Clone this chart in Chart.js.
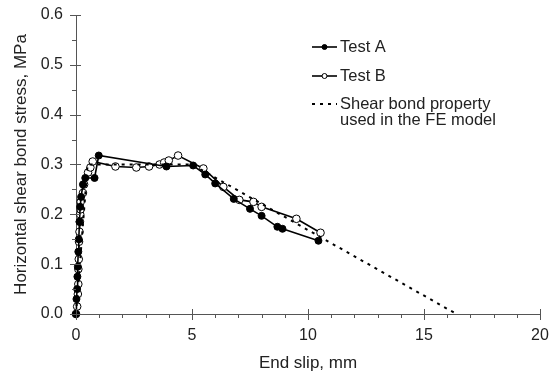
<!DOCTYPE html>
<html>
<head>
<meta charset="utf-8">
<script src="https://cdn.jsdelivr.net/npm/chart.js@4"></script>
<style>
  body { margin: 0; background: #fff; }
  #wrap { width: 552px; height: 374px; }
</style>
</head>
<body>
<div id="wrap"><canvas id="myChart" width="552" height="374"></canvas></div>
<script>
// data
var testAx = [0, 0.02, 0.05, 0.06, 0.08, 0.1, 0.12, 0.15, 0.18, 0.22, 0.3, 0.4, 0.8, 0.98, 3.9, 5.05, 5.57, 6.0, 6.8, 7.5, 8.0, 8.68, 8.9, 10.45];
var testAy = [0, 0.03, 0.05, 0.075, 0.095, 0.125, 0.15, 0.185, 0.215, 0.235, 0.26, 0.273, 0.273, 0.318, 0.296, 0.298, 0.28, 0.262, 0.231, 0.211, 0.197, 0.175, 0.171, 0.147];

var testBx = [0, 0.05, 0.08, 0.1, 0.1, 0.12, 0.13, 0.15, 0.17, 0.18, 0.2, 0.2, 0.3, 0.35, 0.52, 0.62, 0.72, 1.7, 2.6, 3.15, 3.6, 3.8, 4.0, 4.4, 5.49, 6.35, 7.04, 7.65, 8.0, 9.5, 10.54];
var testBy = [0, 0.015, 0.04, 0.06, 0.09, 0.11, 0.145, 0.165, 0.185, 0.2, 0.21, 0.225, 0.243, 0.26, 0.284, 0.294, 0.306, 0.296, 0.294, 0.296, 0.3, 0.304, 0.308, 0.318, 0.292, 0.255, 0.229, 0.225, 0.215, 0.191, 0.163];

var modelX = [0, 0.5, 5.0, 16.4];
var modelY = [0, 0.30, 0.30, 0];

var xTicks = [0, 5, 10, 15, 20];
var yTicks = [0, 0.1, 0.2, 0.3, 0.4, 0.5, 0.6];

function pts(xs, ys) {
  var out = [];
  for (var i = 0; i < xs.length; i++) out.push({x: xs[i], y: ys[i]});
  return out;
}

var FONT = "'Liberation Sans', Arial, sans-serif";
var AXIS = '#555';
var TEXT = '#222';

// minor + major tick marks
var tickPlugin = {
  id: 'ticks',
  afterDraw: function(chart) {
    var c = chart.ctx, xs = chart.scales.x, ys = chart.scales.y;
    var a = chart.chartArea;
    c.save();
    c.strokeStyle = AXIS;
    c.lineWidth = 1;
    c.beginPath();
    for (var i = 0; i <= 20; i++) {
      var px = Math.round(xs.getPixelForValue(i)) + 0.5;
      if (i % 5 == 0) { c.moveTo(px, a.bottom - 5); c.lineTo(px, a.bottom + 6); }
      else { c.moveTo(px, a.bottom); c.lineTo(px, a.bottom + 4); }
    }
    for (var j = 0; j <= 12; j++) {
      var py = Math.round(ys.getPixelForValue(j * 0.05)) + 0.5;
      if (j % 2 == 0) { c.moveTo(a.left - 6, py); c.lineTo(a.left + 5, py); }
      else { c.moveTo(a.left - 4, py); c.lineTo(a.left, py); }
    }
    c.stroke();
    c.restore();
  }
};

// legend drawn in the plot
var legendPlugin = {
  id: 'legendBox',
  afterDraw: function(chart) {
    var c = chart.ctx;
    var x0 = 312, x1 = 337, tx = 340;
    c.save();
    c.font = '16.5px ' + FONT;
    c.fillStyle = TEXT;
    c.textBaseline = 'middle';
    var rows = [
      {y: 47, ds: 1, lines: ['Test A']},
      {y: 76, ds: 2, lines: ['Test B']},
      {y: 104, ds: 0, lines: ['Shear bond property', 'used in the FE model']}
    ];
    rows.forEach(function(r) {
      var d = chart.data.datasets[r.ds];
      c.strokeStyle = '#000';
      c.lineWidth = d.borderWidth;
      c.setLineDash(d.borderDash || []);
      c.beginPath();
      c.moveTo(x0, r.y); c.lineTo(x1, r.y);
      c.stroke();
      c.setLineDash([]);
      if (d.pointRadius > 0) {
        c.beginPath();
        c.arc((x0 + x1) / 2, r.y, 2.5, 0, Math.PI * 2);
        c.fillStyle = d.pointBackgroundColor;
        c.fill();
        c.lineWidth = 1;
        c.stroke();
      }
      c.fillStyle = TEXT;
      r.lines.forEach(function(t, k) {
        c.fillText(t, tx, r.y + k * 16);
      });
    });
    c.restore();
  }
};

var ctx = document.getElementById('myChart').getContext('2d');
var myChart = new Chart(ctx, {
  type: 'scatter',
  data: {
    datasets: [
      {
        label: 'Shear bond property used in the FE model',
        data: pts(modelX, modelY),
        showLine: true,
        borderColor: '#000',
        borderWidth: 2,
        borderDash: [3, 5],
        pointRadius: 0,
        pointBackgroundColor: '#000'
      },
      {
        label: 'Test A',
        data: pts(testAx, testAy),
        showLine: true,
        borderColor: '#000',
        borderWidth: 1.6,
        pointRadius: 3.5,
        pointBorderWidth: 1,
        pointBorderColor: '#000',
        pointBackgroundColor: '#000'
      },
      {
        label: 'Test B',
        data: pts(testBx, testBy),
        showLine: true,
        borderColor: '#000',
        borderWidth: 1.6,
        pointRadius: 3.8,
        pointBorderWidth: 1,
        pointBorderColor: '#000',
        pointBackgroundColor: '#fff'
      }
    ]
  },
  options: {
    responsive: false,
    animation: false,
    clip: false,
    layout: { padding: { left: 7, right: 12, top: 15, bottom: 0 } },
    plugins: {
      legend: { display: false },
      tooltip: { enabled: false }
    },
    scales: {
      x: {
        type: 'linear',
        min: 0, max: 20,
        afterFit: function(s) { s.height = 60; s.paddingLeft = 0; s.paddingRight = 0; },
        afterBuildTicks: function(s) { s.ticks = xTicks.map(function(v) { return {value: v}; }); },
        grid: { display: true, drawOnChartArea: false, drawTicks: false },
        border: { color: AXIS, width: 1 },
        ticks: { color: TEXT, font: { family: FONT, size: 16 }, padding: 12, maxRotation: 0 },
        title: { display: true, text: 'End slip, mm', color: TEXT, font: { family: FONT, size: 17 }, padding: { top: 4, bottom: 0 } }
      },
      y: {
        type: 'linear',
        min: 0, max: 0.6,
        afterFit: function(s) { s.width = 69; s.paddingTop = 0; s.paddingBottom = 0; },
        afterBuildTicks: function(s) { s.ticks = yTicks.map(function(v) { return {value: v}; }); },
        grid: { display: true, drawOnChartArea: false, drawTicks: false },
        border: { color: AXIS, width: 1 },
        ticks: {
          color: TEXT, font: { family: FONT, size: 16 }, padding: 13,
          callback: function(v) { return v.toFixed(1); }
        },
        title: { display: true, text: 'Horizontal shear bond stress, MPa', color: TEXT, font: { family: FONT, size: 17 }, padding: { bottom: 4 } }
      }
    }
  },
  plugins: [tickPlugin, legendPlugin]
});
</script>
</body>
</html>
